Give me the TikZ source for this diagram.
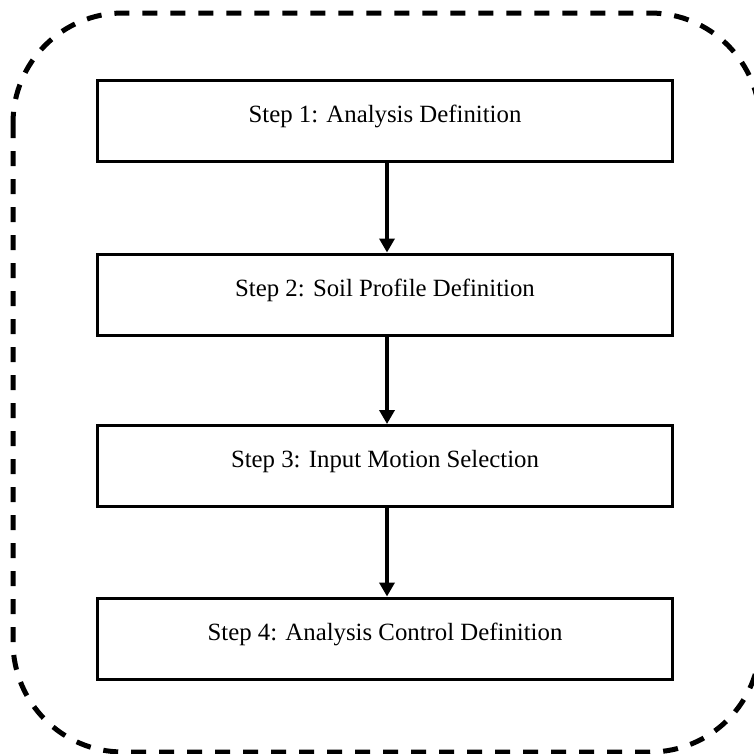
\documentclass[tikz,border=0pt]{standalone}
\usepackage{fontspec}
\setmainfont{Liberation Serif}
\usetikzlibrary{arrows.meta}
\begin{document}
\begin{tikzpicture}[x=1pt,y=-1pt,
  stepbox/.style={draw=black,line width=3pt,minimum width=575pt,minimum height=81pt,inner sep=0pt,text depth=14pt,font=\fontsize{24.8pt}{28pt}\selectfont},
  flow/.style={line width=4pt,-{Triangle[width=15pt,length=14pt]}},
  frame/.style={line width=5pt,dash pattern=on 15pt off 13pt,rounded corners=110pt}]
\useasboundingbox (0,0) rectangle (754,753);
\draw[frame] (13,13) rectangle (760,752);
\node[stepbox] (b1) at (385,121) {Step 1: Analysis Definition};
\node[stepbox] (b2) at (385,294.5) {Step 2: Soil Profile Definition};
\node[stepbox] (b3) at (385,466) {Step 3: Input Motion Selection};
\node[stepbox] (b4) at (385,638.5) {Step 4: Analysis Control Definition};
\draw[flow] ([xshift=2pt]b1.south) -- ([xshift=2pt]b2.north);
\draw[flow] ([xshift=2pt]b2.south) -- ([xshift=2pt]b3.north);
\draw[flow] ([xshift=2pt]b3.south) -- ([xshift=2pt]b4.north);
\end{tikzpicture}
\end{document}
